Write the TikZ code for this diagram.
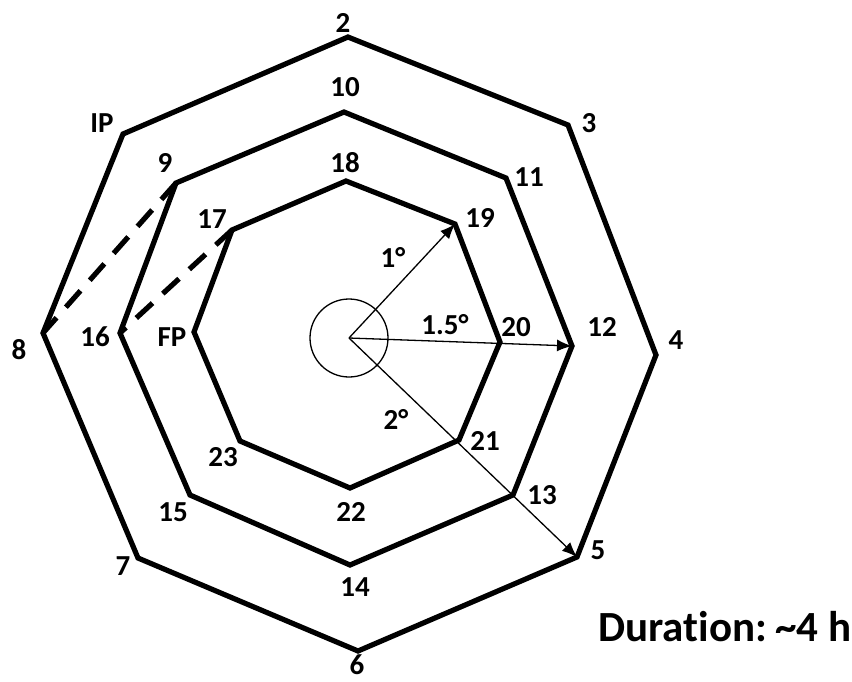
\documentclass[tikz,border=0pt]{standalone}
\usepackage{fontspec}
\setmainfont{Carlito}[Ligatures=NoCommon]
\usetikzlibrary{arrows.meta}

\begin{document}
\begin{tikzpicture}[
    x=1pt, y=-1pt,
    ring/.style={line width=5.2pt},
    jump/.style={line width=5.2pt, dash pattern=on 22pt off 14pt},
    ray/.style={line width=1.3pt, -{Latex[length=15pt,width=12pt]}},
    lbl/.style={font=\fontsize{29}{33}\selectfont\bfseries, inner sep=0pt}
]

\useasboundingbox (0,0) rectangle (852,681);

% Outer ring
\coordinate (p2) at (348,37);
\coordinate (p3) at (568,125);
\coordinate (p4) at (656,355);
\coordinate (p5) at (577,557);
\coordinate (p6) at (358,651);
\coordinate (p7) at (138,558);
\coordinate (p8) at (43,333);
\coordinate (pIP) at (123,134);

% Middle ring
\coordinate (p10) at (344,112);
\coordinate (p11) at (506,178);
\coordinate (p12) at (572,346);
\coordinate (p13) at (513,495);
\coordinate (p14) at (350,565);
\coordinate (p15) at (190,495);
\coordinate (p16) at (120,333);
\coordinate (p9) at (176,183);

% Inner ring
\coordinate (p18) at (346,181);
\coordinate (p19) at (455,224);
\coordinate (p20) at (500,342);
\coordinate (p21) at (459,440);
\coordinate (p22) at (350,488);
\coordinate (p23) at (240,441);
\coordinate (pFP) at (194,332);
\coordinate (p17) at (232,230);

% Centre
\coordinate (ctr) at (349,338);

% Rings
\draw[ring] (p2) -- (p3) -- (p4) -- (p5) -- (p6) -- (p7) -- (p8) -- (pIP) -- cycle;
\draw[ring] (p10) -- (p11) -- (p12) -- (p13) -- (p14) -- (p15) -- (p16) -- (p9) -- cycle;
\draw[ring] (p18) -- (p19) -- (p20) -- (p21) -- (p22) -- (p23) -- (pFP) -- (p17) -- cycle;

% Jumps between rings
\draw[jump] (p9) -- (p8);
\draw[jump] (p17) -- (p16);

% Centre circle and rays
\draw[line width=1.3pt] (ctr) circle[radius=39pt];
\draw[ray] (ctr) -- (p19);
\draw[ray] (ctr) -- (p12);
\draw[ray] (ctr) -- (p5);

% Ray labels
\node[lbl] (a1) at (393,257) {1°};
\node[lbl] (a15) at (445,325) {1.5°};
\node[lbl] (a2) at (396,419) {2°};

% Outer labels
\node[lbl] (l2) at (343,23) {2};
\node[lbl] (l3) at (589,123) {3};
\node[lbl] (l4) at (676,340) {4};
\node[lbl] (l5) at (598,550) {5};
\node[lbl] (l6) at (357,665) {6};
\node[lbl] (l7) at (123,566) {7};
\node[lbl] (l8) at (19,350) {8};
\node[lbl] (lIP) at (102,123) {IP};

% Middle labels
\node[lbl] (l10) at (345,87) {10};
\node[lbl] (l11) at (529,177) {11};
\node[lbl] (l12) at (602,327) {12};
\node[lbl] (l13) at (542,495) {13};
\node[lbl] (l14) at (355,587) {14};
\node[lbl] (l15) at (173,512) {15};
\node[lbl] (l16) at (95,337) {16};
\node[lbl] (l9) at (165,163) {9};

% Inner labels
\node[lbl] (l18) at (345,163) {18};
\node[lbl] (l19) at (480,218) {19};
\node[lbl] (l20) at (516,327) {20};
\node[lbl] (l21) at (485,441) {21};
\node[lbl] (l22) at (351,512) {22};
\node[lbl] (l23) at (223,457) {23};
\node[lbl] (lFP) at (172,337) {FP};
\node[lbl] (l17) at (212,219) {17};

% Duration
\node[font=\fontsize{43}{47}\selectfont\bfseries, anchor=west, inner sep=0pt] (dur) at (598,627) {Duration:\hspace{8pt}\textasciitilde 4 h};

\end{tikzpicture}
\end{document}
